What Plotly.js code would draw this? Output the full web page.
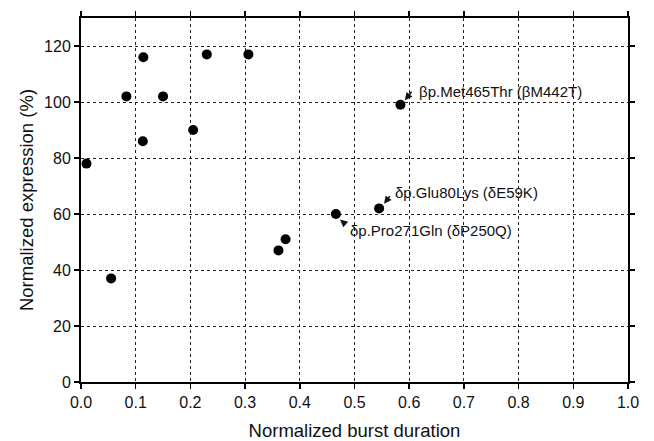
<!DOCTYPE html>
<html>
<head>
<meta charset="utf-8">
<script src="https://cdn.plot.ly/plotly-3.0.1.min.js"></script>
<style>html,body{margin:0;padding:0;background:#fff;}#chart{width:654px;height:441px;}</style>
</head>
<body>
<div id="chart"></div>
<script>
const burstDuration = [0.010, 0.083, 0.114, 0.113, 0.150, 0.205, 0.230, 0.306, 0.055, 0.361, 0.374, 0.584, 0.545, 0.466];
const expression    = [78, 102, 116, 86, 102, 90, 117, 117, 37, 47, 51, 99, 62, 60];
const labelTexts = ['βp.Met465Thr (βM442T)', 'δp.Glu80Lys (δE59K)', 'δp.Pro271Gln (δP250Q)'];
const labelTextX = [0.614, 0.570, 0.488];
const labelTextY = [103.9, 67.7, 54.2];
const arrowHeadX = [0.592, 0.554, 0.4735];
const arrowHeadY = [100.6, 63.7, 58.0];
const arrowAX = [8, 7, 7];
const arrowAY = [-10, -9, 6];

const font = 'Liberation Sans, Arial, sans-serif';
const annotations = [];
labelTexts.forEach((t, i) => {
  annotations.push({x: labelTextX[i], y: labelTextY[i], xref: 'x', yref: 'y', text: t, showarrow: false,
    xanchor: 'left', yanchor: 'middle', font: {family: font, size: 15, color: '#111'}});
  annotations.push({x: arrowHeadX[i], y: arrowHeadY[i], xref: 'x', yref: 'y', text: '', showarrow: true,
    ax: arrowAX[i], ay: arrowAY[i], arrowhead: 2, arrowsize: 1, arrowwidth: 1.5, arrowcolor: '#111', standoff: 0});
});

const axisCommon = {
  showline: true, linecolor: '#000', linewidth: 2, mirror: 'ticks',
  ticks: 'outside', ticklen: 5, tickwidth: 1.5, tickcolor: '#000',
  showgrid: true, gridcolor: '#222', gridwidth: 1, griddash: 'dot',
  zeroline: false, tickfont: {family: font, size: 16, color: '#111'}
};

Plotly.newPlot('chart', [{
  x: burstDuration, y: expression, type: 'scatter', mode: 'markers',
  marker: {color: '#000', size: 10}, hoverinfo: 'skip'
}], {
  width: 654, height: 441,
  margin: {l: 81, r: 26, t: 18, b: 59},
  paper_bgcolor: '#fff', plot_bgcolor: '#fff',
  showlegend: false,
  xaxis: Object.assign({}, axisCommon, {range: [0, 1], dtick: 0.1, tick0: 0, tickformat: '.1f',
    title: {text: 'Normalized burst duration', font: {family: font, size: 18.5, color: '#111'}, standoff: 14}}),
  yaxis: Object.assign({}, axisCommon, {range: [0, 130], dtick: 20, tick0: 0,
    title: {text: 'Normalized expression (%)', font: {family: font, size: 18.5, color: '#111'}, standoff: 6}}),
  annotations: annotations
}, {displayModeBar: false, staticPlot: true});
</script>
</body>
</html>
